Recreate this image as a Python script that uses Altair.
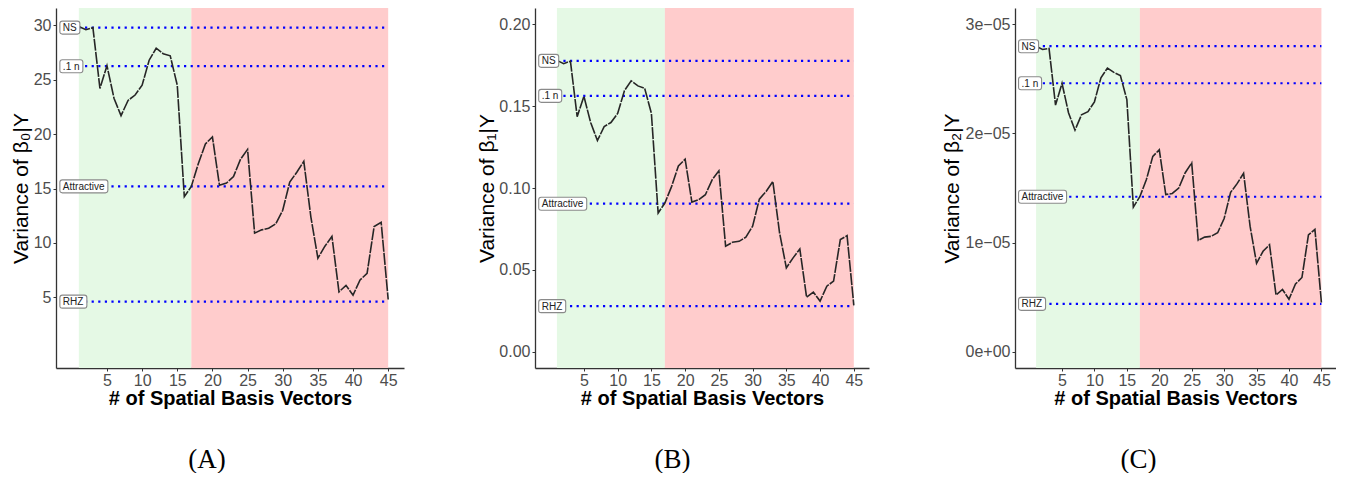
import altair as alt
import pandas as pd

# ---------------- data ----------------
basis_vectors = list(range(1, 46))

var_beta0 = [29.9, 29.6, 29.8, 24.2, 26.3, 23.3, 21.7, 23.1, 23.6, 24.5,
             26.8, 27.9, 27.4, 27.2, 24.5, 14.25, 15.2, 17.3, 19.1, 19.75,
             15.3, 15.5, 16.1, 17.7, 18.6, 10.9, 11.2, 11.35, 11.75, 13.0,
             15.6, 16.5, 17.5, 12.4, 8.6, 9.7, 10.6, 5.5, 6.1, 5.2,
             6.6, 7.2, 11.5, 11.9, 4.8]

var_beta1 = [0.178, 0.176, 0.1775, 0.1436, 0.156, 0.140, 0.129, 0.1375, 0.140, 0.1456,
             0.1594, 0.1655, 0.1624, 0.161, 0.1456, 0.0847, 0.0908, 0.101, 0.1135, 0.1176,
             0.0914, 0.0928, 0.0959, 0.105, 0.1105, 0.0644, 0.0668, 0.0674, 0.070, 0.0766,
             0.0932, 0.0979, 0.104, 0.0725, 0.0512, 0.0573, 0.0627, 0.0333, 0.0364, 0.0309,
             0.040, 0.0431, 0.0685, 0.0709, 0.0283]

var_beta2 = [2.80e-5, 2.77e-5, 2.78e-5, 2.26e-5, 2.46e-5, 2.19e-5, 2.03e-5, 2.17e-5, 2.20e-5, 2.29e-5,
             2.51e-5, 2.60e-5, 2.56e-5, 2.53e-5, 2.31e-5, 1.325e-5, 1.42e-5, 1.575e-5, 1.79e-5, 1.85e-5,
             1.44e-5, 1.45e-5, 1.50e-5, 1.64e-5, 1.73e-5, 1.02e-5, 1.05e-5, 1.057e-5, 1.09e-5, 1.22e-5,
             1.46e-5, 1.54e-5, 1.635e-5, 1.15e-5, 0.81e-5, 0.92e-5, 0.98e-5, 0.52e-5, 0.57e-5, 0.48e-5,
             0.62e-5, 0.68e-5, 1.07e-5, 1.12e-5, 0.45e-5]

ref_labels = ["NS", ".1 n", "Attractive", "RHZ"]
ref_beta0 = [29.8, 26.25, 15.2, 4.6]
ref_beta1 = [0.1777, 0.1563, 0.0904, 0.0278]
ref_beta2 = [2.80e-5, 2.46e-5, 1.42e-5, 0.438e-5]

region_start = [1, 17]
region_end = [17, 45]
region_color = ["#E5F9E5", "#FFCCCC"]

x_ticks = [5, 10, 15, 20, 25, 30, 35, 40, 45]
y_ticks0 = [5, 10, 15, 20, 25, 30]
y_ticks1 = [0.0, 0.05, 0.10, 0.15, 0.20]
y_ticks2 = [0.0, 1e-5, 2e-5, 3e-5]

captions = ["(A)", "(B)", "(C)"]

# ---------------- styling helpers ----------------
LABEL_BOX_W = [20, 23, 48, 27]  # px widths of label boxes
BOX_H = 13
UNIT = 50.0  # symbol size 10000 -> 1 unit = 50 px


def box_path(w, h=BOX_H, r=2.5):
    u = UNIT
    t, b = -h / 2.0 / u, h / 2.0 / u
    l, rr = 0.0, w / u
    q = r / u
    return (f"M{l+q},{t}L{rr-q},{t}Q{rr},{t} {rr},{t+q}L{rr},{b-q}Q{rr},{b} {rr-q},{b}"
            f"L{l+q},{b}Q{l},{b} {l},{b-q}L{l},{t+q}Q{l},{t} {l+q},{t}Z")


X_DOMAIN = [-2.25, 47.25]
FONT = "Liberation Sans"
TICK_FS = 16


def panel(values, refs, y_domain, y_ticks, width, y_title, caption, extent,
          fmt=None, label_expr=None):
    xscale = alt.Scale(domain=X_DOMAIN, nice=False, zero=False)
    yscale = alt.Scale(domain=y_domain, nice=False, zero=False)

    xaxis = alt.Axis(values=x_ticks, title="# of Spatial Basis Vectors", grid=False,
                     titleFont=FONT, titleFontSize=20, titleFontWeight="bold", titleColor="#000",
                     titlePadding=0.5, labelFont=FONT, labelFontSize=TICK_FS, labelColor="#4D4D4D",
                     labelPadding=1, tickSize=3, tickColor="#333", domainColor="#333",
                     domainWidth=1.3, labelFlush=False)
    yargs = dict(values=y_ticks, title=y_title, grid=False,
                 titleFont=FONT, titleFontSize=21, titleFontWeight="normal", titleColor="#000",
                 titlePadding=2, labelFont=FONT, labelFontSize=TICK_FS, labelColor="#4D4D4D",
                 labelPadding=2, tickSize=3, tickColor="#333", domainColor="#333",
                 domainWidth=1.3, labelFlush=False, minExtent=extent, maxExtent=extent)
    if fmt is not None:
        yargs["format"] = fmt
    if label_expr is not None:
        yargs["labelExpr"] = label_expr
    yaxis = alt.Axis(**yargs)

    shade_df = pd.DataFrame({"x0": region_start, "x1": region_end, "c": region_color,
                             "y0": [y_domain[0]] * 2, "y1": [y_domain[1]] * 2})
    line_df = pd.DataFrame({"x": basis_vectors, "y": values})
    ref_df = pd.DataFrame({"label": ref_labels, "y": refs, "x0": [0] * 4, "x1": [45] * 4,
                           "lx": [-1.7] * 4, "path": [box_path(w) for w in LABEL_BOX_W]})

    shade = alt.Chart(shade_df).mark_rect().encode(
        x=alt.X("x0:Q", scale=xscale, axis=xaxis),
        x2="x1:Q",
        y=alt.Y("y0:Q", scale=yscale, axis=yaxis),
        y2="y1:Q",
        color=alt.Color("c:N", scale=None),
    )
    rules = alt.Chart(ref_df).mark_rule(color="#0000FF", strokeWidth=2.2,
                                        strokeDash=[2.2, 4.4]).encode(
        x=alt.X("x0:Q", scale=xscale, axis=xaxis),
        x2="x1:Q",
        y=alt.Y("y:Q", scale=yscale, axis=yaxis),
    )
    line = alt.Chart(line_df).mark_line(color="#262626", strokeWidth=1.6,
                                        strokeDash=[12, 1.2]).encode(
        x=alt.X("x:Q", scale=xscale, axis=xaxis),
        y=alt.Y("y:Q", scale=yscale, axis=yaxis),
    )
    boxes = alt.Chart(ref_df).mark_point(filled=True, fill="white", stroke="#8A8A8A",
                                         strokeWidth=1.1, opacity=1, size=10000).encode(
        x=alt.X("lx:Q", scale=xscale, axis=xaxis),
        y=alt.Y("y:Q", scale=yscale, axis=yaxis),
        shape=alt.Shape("path:N", scale=None),
    )
    texts = alt.Chart(ref_df).mark_text(align="left", baseline="middle", dx=3, dy=0.5,
                                        font=FONT, fontSize=10, color="#222").encode(
        x=alt.X("lx:Q", scale=xscale, axis=xaxis),
        y=alt.Y("y:Q", scale=yscale, axis=yaxis),
        text="label:N",
    )
    return alt.layer(shade, rules, line, boxes, texts).properties(
        width=width, height=360,
        title=alt.TitleParams(caption, orient="bottom", anchor="middle", frame="bounds",
                              font="Liberation Serif", fontSize=27, fontWeight="normal",
                              color="#000", offset=38, baseline="top"),
    )


pA = panel(var_beta0, ref_beta0, [-1.5, 31.6], y_ticks0, 348, "Variance of β₀|Y",
           captions[0], 23, fmt="d")
pB = panel(var_beta1, ref_beta1, [-0.01, 0.21], y_ticks1, 334, "Variance of β₁|Y",
           captions[1], 36, fmt=".2f")
pC = panel(var_beta2, ref_beta2, [-1.5e-6, 3.15e-5], y_ticks2, 321, "Variance of β₂|Y",
           captions[2], 51,
           label_expr="datum.value == 0 ? '0e+00' : format(datum.value * 100000, 'd') + 'e\u221205'")

chart = alt.hconcat(pA, pB, pC, spacing=72).properties(
    padding={"left": 2, "top": 0, "right": 0, "bottom": 0}
).configure_view(stroke=None)

chart.save("out.html", embed_options={"renderer": "svg", "actions": False})
